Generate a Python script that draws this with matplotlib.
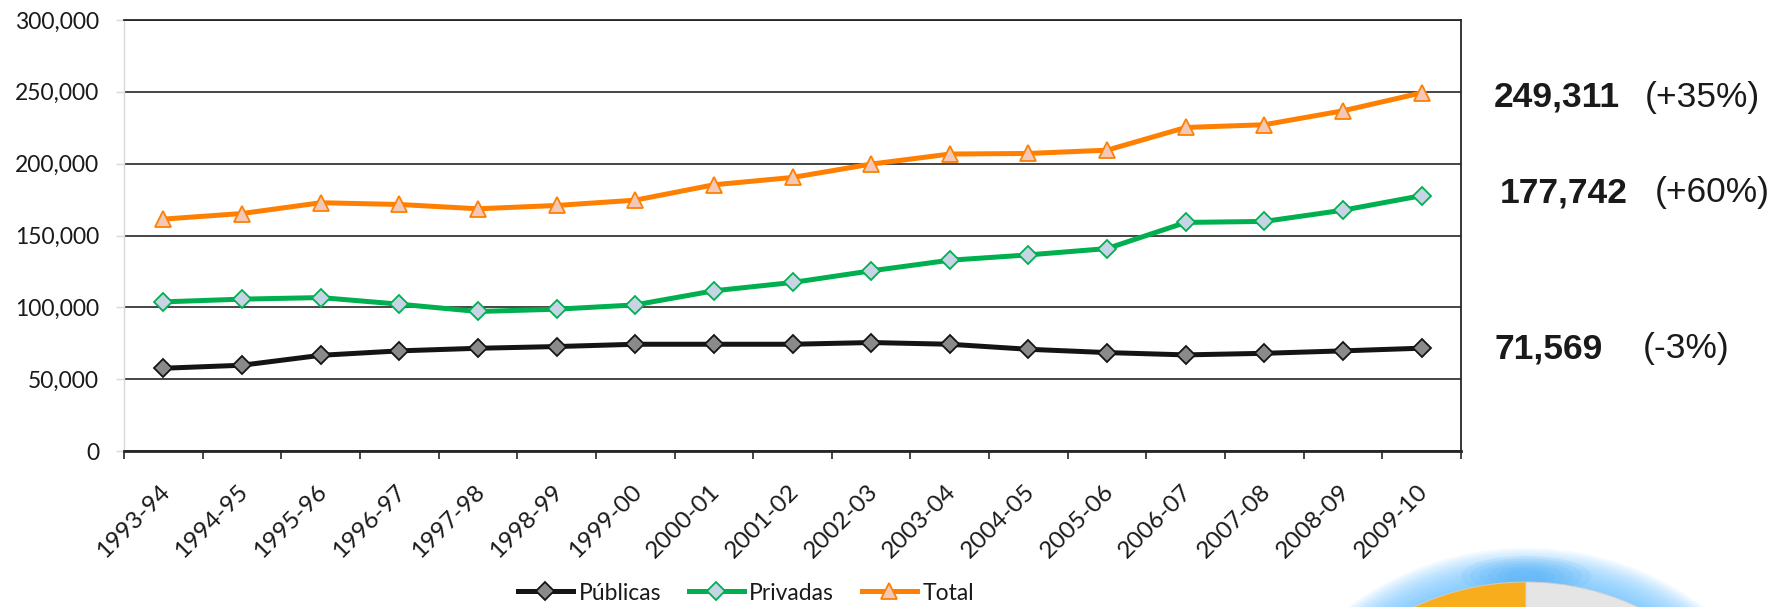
import matplotlib
matplotlib.use("Agg")
import matplotlib.pyplot as plt
import matplotlib.transforms as mtransforms
from matplotlib.patches import Circle, Ellipse
from matplotlib.ticker import FuncFormatter, MultipleLocator, FixedLocator

# --- data ---
years = ["1993-94", "1994-95", "1995-96", "1996-97", "1997-98", "1998-99", "1999-00",
         "2000-01", "2001-02", "2002-03", "2003-04", "2004-05", "2005-06", "2006-07",
         "2007-08", "2008-09", "2009-10"]
publicas = [57600, 59700, 66600, 69700, 71500, 72700, 74300, 74300, 74300, 75500,
            74300, 70800, 68500, 66900, 68000, 69700, 71569]
privadas = [103800, 105700, 106800, 102200, 97100, 98700, 101700, 111500, 117300, 125400,
            132800, 136500, 140900, 159100, 159800, 167600, 177742]
total = [161400, 165300, 172800, 171600, 168600, 170900, 174600, 185300, 190400, 199700,
         206700, 207100, 209400, 225200, 227100, 236800, 249311]
series_names = ["Públicas", "Privadas", "Total"]
pct_labels = ["(+35%)", "(+60%)", "(-3%)"]
pie_shares = [40, 60]

W, H = 1788, 607
fig = plt.figure(figsize=(W / 100, H / 100), dpi=100, facecolor="white")

# plot area in pixels (left, top, right, bottom)
L, T, R, B = 124, 20, 1461, 451
ax = fig.add_axes([L / W, 1 - B / H, (R - L) / W, (B - T) / H])

x = list(range(len(years)))
ax.plot(x, publicas, "-", color="#141414", lw=3.6, marker="D", markersize=9.5,
        markerfacecolor="#8a8a8a", markeredgecolor="#141414", markeredgewidth=1.3,
        label=series_names[0], zorder=5)
ax.plot(x, privadas, "-", color="#00b050", lw=3.6, marker="D", markersize=9.5,
        markerfacecolor="#c6d4e6", markeredgecolor="#00b050", markeredgewidth=1.3,
        label=series_names[1], zorder=5)
ax.plot(x, total, "-", color="#ff8000", lw=3.6, marker="^", markersize=12,
        markerfacecolor="#f4c8b9", markeredgecolor="#ff8000", markeredgewidth=1.3,
        label=series_names[2], zorder=5)

ax.set_xlim(-0.5, len(years) - 0.5)
ax.set_ylim(0, 300000)
ax.yaxis.set_major_locator(MultipleLocator(50000))
ax.yaxis.set_major_formatter(FuncFormatter(lambda v, p: f"{int(v):,}"))
ax.grid(axis="y", color="#262626", lw=1.2)
ax.set_axisbelow(True)

# category boundaries as major ticks, labels on minor ticks at centres
ax.xaxis.set_major_locator(FixedLocator([i - 0.5 for i in range(len(years) + 1)]))
ax.xaxis.set_major_formatter(FuncFormatter(lambda v, p: ""))
ax.xaxis.set_minor_locator(FixedLocator(x))
ax.set_xticklabels(years, minor=True)
ax.tick_params(axis="x", which="major", length=6, width=1.2, color="#262626")
ax.tick_params(axis="x", which="minor", length=0, pad=27)
ax.tick_params(axis="y", length=6, width=1, color="#d9d9d9", pad=12)

lab_font = "Lato"
for lab in ax.get_xticklabels(minor=True):
    lab.set_rotation(45)
    lab.set_ha("right")
    lab.set_va("center")
    lab.set_rotation_mode("anchor")
    lab.set_fontfamily(lab_font)
    lab.set_fontsize(17.5)
    lab.set_color("#1a1a1a")
    lab.set_transform(lab.get_transform() +
                      mtransforms.ScaledTranslation(0.03, 0, fig.dpi_scale_trans))
for lab in ax.get_yticklabels():
    lab.set_fontfamily(lab_font)
    lab.set_fontsize(16.5)
    lab.set_color("#1a1a1a")

for side in ["top", "right"]:
    ax.spines[side].set_color("#262626")
    ax.spines[side].set_linewidth(1.3)
ax.spines["left"].set_color("#d9d9d9")
ax.spines["left"].set_linewidth(1)
ax.spines["bottom"].set_color("#262626")
ax.spines["bottom"].set_linewidth(2)

leg = ax.legend(loc="center", bbox_to_anchor=(746 / W, 1 - 593 / H),
                bbox_transform=fig.transFigure, ncol=3, frameon=False,
                prop={"family": lab_font, "size": 16.5}, handlelength=2.4,
                handletextpad=0.25, columnspacing=1.2)
for t in leg.get_texts():
    t.set_color("#1a1a1a")

# end-value annotations on the right
ends = [total[-1], privadas[-1], publicas[-1]]
num_x = [1494, 1500, 1495]
pct_x = [1645, 1655, 1643]
base_y = [107, 202, 358]
for v, pl, nx, px_, by in zip(ends, pct_labels, num_x, pct_x, base_y):
    fig.text(nx / W, 1 - by / H, f"{v:,}", fontsize=25.5, fontweight="bold",
             family="Liberation Sans", color="#1a1a1a", va="baseline", ha="left")
    fig.text(px_ / W, 1 - by / H, pl, fontsize=25.5, family="Liberation Sans",
             color="#1a1a1a", va="baseline", ha="left")

# decorative pie peeking in at the bottom-right corner
pax = fig.add_axes([1300 / W, 0, 488 / W, 110 / H])
cx, cy, r = 1526, -238, 263
for k in range(16):
    pax.add_patch(Circle((cx, cy), r + 1 + k * 2.2, color="#6cc4ff", alpha=0.085,
                         lw=0, zorder=1))
for k in range(6):
    pax.add_patch(Ellipse((cx, cy + r + 6), 130 - k * 18, 40 - k * 5, color="#45aaf5",
                          alpha=0.11, lw=0, zorder=1))
pax.pie(pie_shares, colors=["#f8ae1c", "#e5e5e5"], startangle=90, counterclock=True,
        center=(cx, cy), radius=r, wedgeprops={"linewidth": 0.6, "edgecolor": "#cfcfcf",
                                               "zorder": 3})
pax.set_xlim(1300, 1788)
pax.set_ylim(0, 110)
pax.set_aspect("auto")
pax.axis("off")

fig.savefig("out.png", dpi=100, facecolor="white")
